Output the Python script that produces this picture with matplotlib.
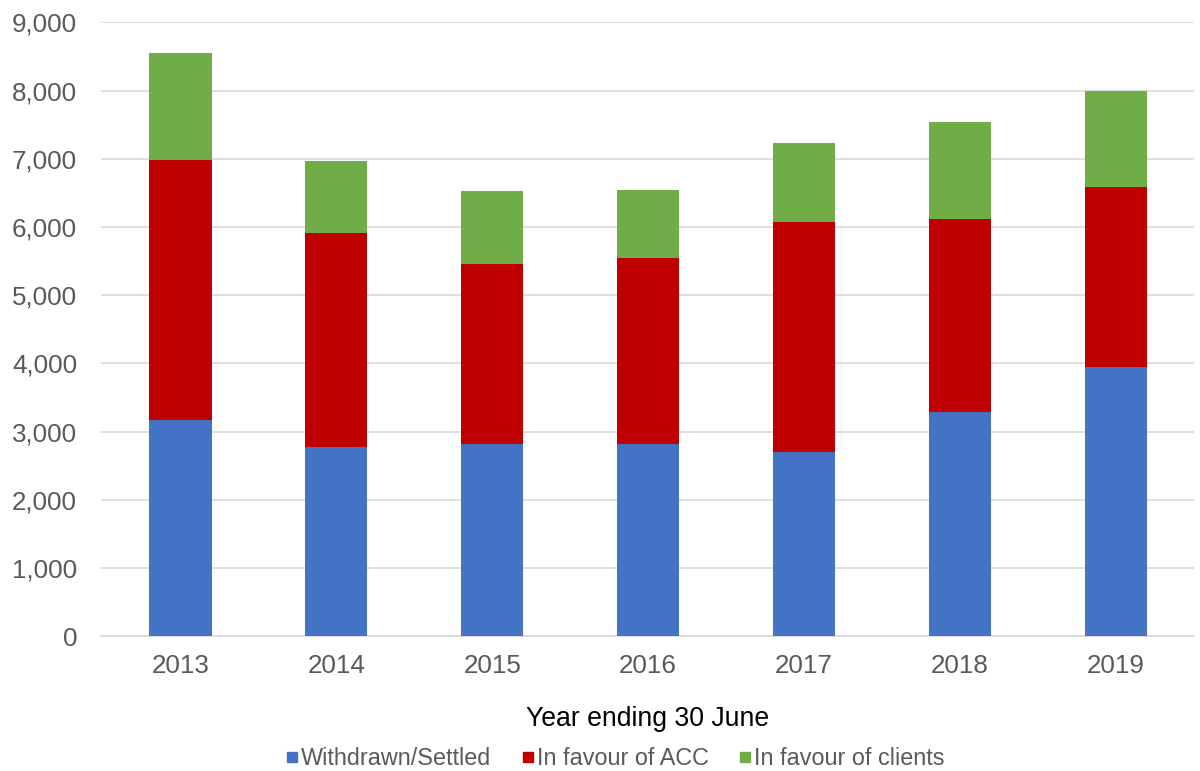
import matplotlib.pyplot as plt
import numpy as np

# Data
years = ["2013", "2014", "2015", "2016", "2017", "2018", "2019"]
withdrawn = [3170, 2780, 2820, 2820, 2700, 3290, 3940]
favour_acc = [3805, 3130, 2630, 2725, 3375, 2830, 2650]
favour_clients = [1570, 1060, 1075, 1000, 1160, 1420, 1405]

series_names = ["Withdrawn/Settled", "In favour of ACC", "In favour of clients"]
colors = ["#4472C4", "#C00000", "#70AD47"]

plt.rcParams["font.family"] = ["Liberation Sans", "DejaVu Sans"]

fig = plt.figure(figsize=(12, 7.71), dpi=100)
ax = fig.add_axes([0.084, 0.175, 0.911, 0.796])

x = np.arange(len(years))
bottom = np.zeros(len(years))
handles = []
for vals, name, col in zip([withdrawn, favour_acc, favour_clients], series_names, colors):
    ax.bar(x, vals, width=0.4, bottom=bottom, color=col, label=name, zorder=3)
    bottom += np.array(vals)
    handles.append(plt.Line2D([], [], marker="s", linestyle="none",
                              markersize=7.5, color=col, label=name))

ax.set_ylim(0, 9000)
ax.set_xlim(-0.51, len(years) - 0.5)
ax.set_yticks(np.arange(0, 9001, 1000))
ax.set_yticklabels([f"{v:,}" for v in range(0, 9001, 1000)])
ax.set_xticks(x)
ax.set_xticklabels(years)

ax.grid(axis="y", color="#d9d9d9", linewidth=1.2, zorder=0)
for s in ["top", "right", "left"]:
    ax.spines[s].set_visible(False)
ax.spines["bottom"].set_color("#d9d9d9")
ax.spines["bottom"].set_linewidth(1.2)
ax.tick_params(axis="both", length=0, labelsize=18.7, colors="#595959")
ax.tick_params(axis="y", pad=17)
ax.tick_params(axis="x", pad=13)

ax.set_xlabel("Year ending 30 June", fontsize=19.2, color="black", labelpad=20)

fig.legend(handles=handles, loc="lower center", bbox_to_anchor=(0.513, -0.026),
           ncol=3, frameon=False, fontsize=16.8, handlelength=0.5,
           handletextpad=0.15, columnspacing=1.3, labelcolor="#595959")

fig.savefig("out.png", dpi=100)
